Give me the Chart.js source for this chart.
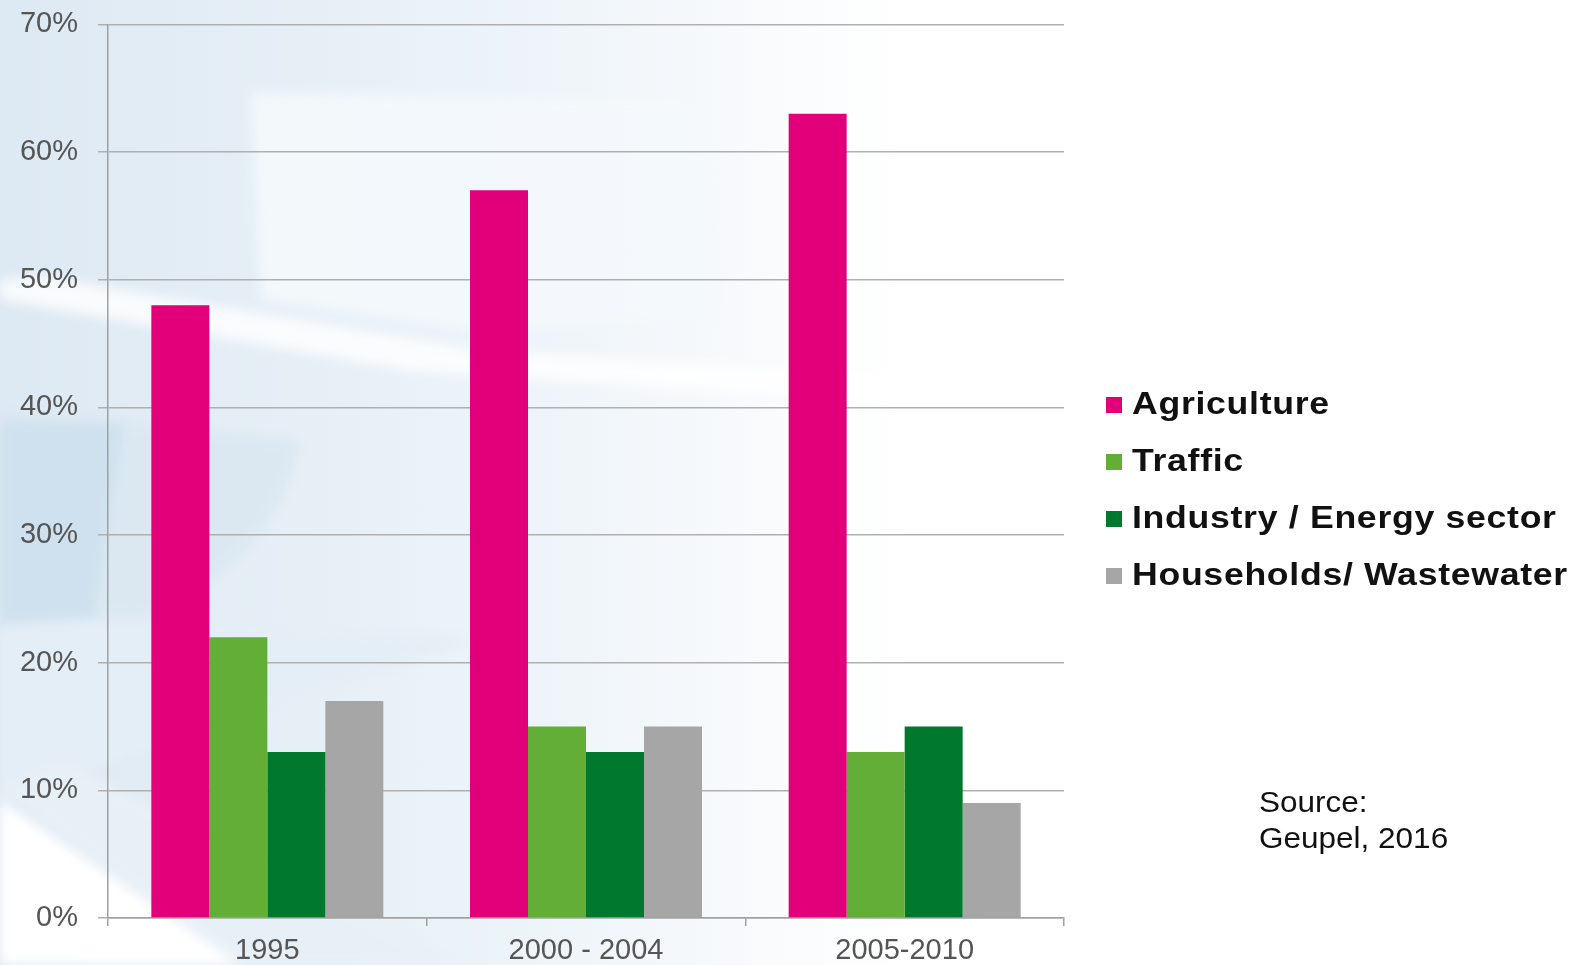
<!DOCTYPE html>
<html>
<head>
<meta charset="utf-8">
<script src="https://cdn.jsdelivr.net/npm/chart.js@4"></script>
<style>
    html, body { margin: 0; padding: 0; background: #fff; }
    #wrap { position: relative; width: 1576px; height: 965px; overflow: hidden; }
    #bg { position: absolute; left: 0; top: 0; }
    #chart { position: absolute; left: 0; top: -13px; }
    #legend { position: absolute; left: 1106px; top: 384px; font-family: 'Liberation Sans', Arial, sans-serif; }
    .item { position: relative; height: 57px; font-weight: bold; font-size: 31px; color: #111; white-space: nowrap; }
    .item span.box { position: absolute; left: 0; top: 13px; width: 16px; height: 16px; }
    .item span.txt { position: absolute; left: 26px; top: 0; line-height: 40px; letter-spacing: 0.6px; transform: scaleX(1.15); transform-origin: left center; }
    #source { position: absolute; left: 1259px; top: 784px; font-family: 'Liberation Sans', Arial, sans-serif; font-size: 30px; line-height: 36px; color: #111; transform: scaleX(1.05); transform-origin: left top; }
</style>
</head>
<body>
<div id="wrap">
    <!-- decorative background shapes -->
    <svg id="bg" width="1576" height="965">
        <defs>
            <linearGradient id="fade" x1="0" y1="0" x2="1" y2="0">
                <stop offset="0" stop-color="#dde9f3"/>
                <stop offset="0.6" stop-color="#eef4f9"/>
                <stop offset="1" stop-color="#ffffff"/>
            </linearGradient>
            <filter id="soft"><feGaussianBlur stdDeviation="6"/></filter>
        </defs>
        <rect x="0" y="0" width="900" height="965" fill="url(#fade)"/>
        <g filter="url(#soft)">
            <polygon points="250,92 700,100 720,320 470,330 260,300" fill="#f4f8fc" opacity="0.9"/>
            <polygon points="0,280 40,276 480,350 1000,380 1000,410 420,372 0,300" fill="#ffffff" opacity="0.8"/>
            <polygon points="0,420 125,423 95,617 0,625" fill="#cfe1ee"/>
            <path d="M125,423 L300,440 Q280,560 140,620 L95,617 Z" fill="#dbe8f2"/>
            <polygon points="0,625 140,620 470,640 0,800" fill="#e4eef6"/>
            <polygon points="0,800 0,965 240,965" fill="#ffffff"/>
            <polygon points="0,790 240,965 460,965 60,760" fill="#e8f0f7"/>
        </g>
    </svg>
    <canvas id="chart" width="1576" height="978"></canvas>
    <div id="legend"></div>
    <div id="source">Source:<br>Geupel, 2016</div>
</div>
<script>
    // categories and series (percent)
    const categories = ['1995', '2000 - 2004', '2005-2010'];
    const seriesNames = ['Agriculture', 'Traffic', 'Industry / Energy sector', 'Households/ Wastewater'];
    const agriculture = [48, 57, 63];
    const traffic = [22, 15, 13];
    const industry = [13, 13, 15];
    const households = [17, 15, 9];
    const seriesColors = ['#e2007a', '#63ae37', '#00792f', '#a6a6a6'];
    const yTicks = [0, 10, 20, 30, 40, 50, 60, 70];

    const seriesValues = [agriculture, traffic, industry, households];
    const tickFont = { family: "'Liberation Sans', Arial, sans-serif", size: 29 };

    const datasets = seriesNames.map((name, i) => ({
        label: name,
        data: seriesValues[i],
        backgroundColor: seriesColors[i],
        borderWidth: 0,
        barPercentage: 1,
        categoryPercentage: 0.728
    }));

    new Chart(document.getElementById('chart').getContext('2d'), {
        type: 'bar',
        data: { labels: categories, datasets: datasets },
        options: {
            responsive: false,
            animation: false,
            layout: { padding: { left: 0, right: 512, top: 11, bottom: 0 } },
            plugins: { legend: { display: false }, tooltip: { enabled: false } },
            scales: {
                x: {
                    grid: { offset: true, drawOnChartArea: false, drawTicks: true, tickLength: 8, color: '#a0a0a0', lineWidth: 1.5 },
                    border: { color: '#a0a0a0', width: 1.5 },
                    ticks: { color: '#555', font: tickFont, padding: 8, maxRotation: 0 },
                    afterFit: (scale) => { scale.height = 47; }
                },
                y: {
                    min: 0,
                    max: 70,
                    afterBuildTicks: (scale) => { scale.ticks = yTicks.map(v => ({ value: v })); },
                    grid: { color: '#b0b0b0', lineWidth: 1.5, tickLength: 10 },
                    border: { color: '#a0a0a0', width: 1.5 },
                    ticks: { color: '#555', font: tickFont, padding: 20, callback: (v) => v + '%' },
                    afterFit: (scale) => { scale.width = 108; }
                }
            }
        }
    });

    // legend as html, built from the series arrays
    const legend = document.getElementById('legend');
    seriesNames.forEach((name, i) => {
        const row = document.createElement('div');
        row.className = 'item';
        row.innerHTML = '<span class="box" style="background:' + seriesColors[i] + '"></span><span class="txt">' + name + '</span>';
        legend.appendChild(row);
    });
</script>
</body>
</html>
